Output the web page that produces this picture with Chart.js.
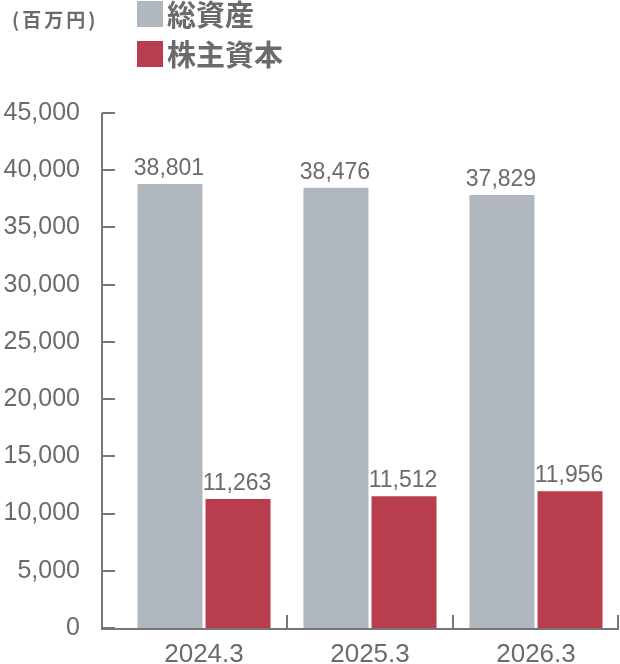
<!DOCTYPE html>
<html>
<head>
<meta charset="utf-8">
<script src="https://cdn.jsdelivr.net/npm/chart.js@4"></script>
<style>
  html, body { margin: 0; padding: 0; background: #fff; overflow: hidden; }
  canvas { display: block; }
</style>
</head>
<body>
<canvas id="chart" width="620" height="664"></canvas>
<script>
const categories = ['2024.3', '2025.3', '2026.3'];
const totalAssets = [38801, 38476, 37829];
const equity = [11263, 11512, 11956];
const seriesNames = ['総資産', '株主資本'];
const unitLabel = '(百万円)';
const yMax = 45000;
const yStep = 5000;

const textColor = '#6b6b6b';
const axisColor = '#777777';
const grayBar = '#b0b7bf';
const redBar = '#b83e4d';

// axis lines, tick marks, legend, unit and value labels
const decorPlugin = {
    id: 'decor',
    beforeDraw(chart) {
        chart.ctx.letterSpacing = '0px';
    },
    afterDraw(chart) {
        const ctx = chart.ctx;
        const area = chart.chartArea;
        const x = chart.scales.x;
        const y = chart.scales.y;
        const axisX = area.left - 19;

        ctx.save();
        ctx.strokeStyle = axisColor;
        ctx.lineWidth = 2;
        ctx.beginPath();
        ctx.moveTo(axisX, y.getPixelForValue(yMax));
        ctx.lineTo(axisX, area.bottom + 1);
        ctx.lineTo(area.right, area.bottom + 1);
        y.ticks.forEach(t => {
            const py = Math.round(y.getPixelForValue(t.value));
            ctx.moveTo(axisX, py);
            ctx.lineTo(axisX + 13, py);
        });
        for (let i = 1; i <= categories.length; i++) {
            let px = i < categories.length
                ? (x.getPixelForValue(i - 1) + x.getPixelForValue(i)) / 2
                : area.right - 1;
            px = Math.round(px);
            ctx.moveTo(px, area.bottom + 1);
            ctx.lineTo(px, area.bottom - 13);
        }
        ctx.stroke();

        // value labels
        ctx.fillStyle = textColor;
        ctx.font = '23px "Liberation Sans", Arial, sans-serif';
        ctx.textAlign = 'center';
        ctx.textBaseline = 'alphabetic';
        chart.data.datasets.forEach((ds, di) => {
            chart.getDatasetMeta(di).data.forEach((bar, i) => {
                ctx.fillText(ds.data[i].toLocaleString('en-US'), bar.x - 1, bar.y - 9);
            });
        });

        // legend
        ctx.textAlign = 'left';
        ctx.textBaseline = 'middle';
        ctx.font = 'bold 29px "Noto Sans CJK JP", sans-serif';
        chart.data.datasets.forEach((ds, di) => {
            const cy = 14 + di * 40;
            ctx.fillStyle = ds.backgroundColor;
            ctx.fillRect(137, cy - 13, 26, 26);
            ctx.fillStyle = textColor;
            ctx.fillText(ds.label, 167, cy + 1);
        });

        // unit label
        ctx.font = 'bold 19px "Noto Sans CJK JP", sans-serif';
        ctx.letterSpacing = '3px';
        ctx.fillText(unitLabel, 12, 20);
        ctx.restore();
    }
};

const ctx = document.getElementById('chart').getContext('2d');
const chart = new Chart(ctx, {
    type: 'bar',
    data: {
        labels: categories,
        datasets: [
            { label: seriesNames[0], data: totalAssets, backgroundColor: grayBar },
            { label: seriesNames[1], data: equity, backgroundColor: redBar }
        ]
    },
    options: {
        responsive: false,
        animation: false,
        layout: { padding: { top: 113, right: 1, left: 0, bottom: 0 } },
        datasets: {
            bar: { categoryPercentage: 0.82, barPercentage: 0.955 }
        },
        plugins: {
            legend: { display: false },
            tooltip: { enabled: false }
        },
        scales: {
            x: {
                grid: { display: false, drawTicks: true, tickLength: 8 },
                border: { display: false },
                ticks: {
                    color: textColor,
                    font: { family: '"Liberation Sans", Arial, sans-serif', size: 26 },
                    padding: 3
                },
                afterFit(scale) { scale.height = 36; }
            },
            y: {
                min: 0,
                max: yMax,
                grid: { display: false, drawTicks: true, tickLength: 36 },
                border: { display: false },
                ticks: {
                    stepSize: yStep,
                    color: textColor,
                    font: { family: '"Liberation Sans", Arial, sans-serif', size: 25 },
                    padding: 5,
                    callback: v => v.toLocaleString('en-US')
                },
                afterFit(scale) { scale.width = 121; }
            }
        }
    },
    plugins: [decorPlugin]
});
</script>
</body>
</html>
